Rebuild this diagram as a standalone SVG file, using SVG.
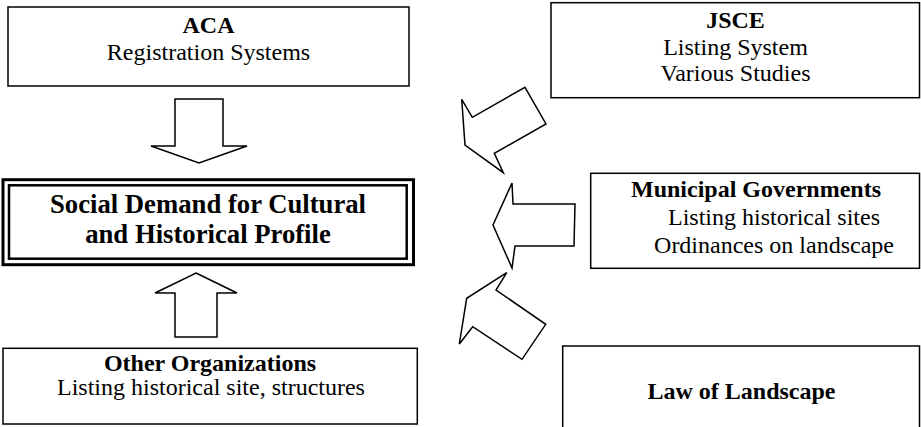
<svg xmlns="http://www.w3.org/2000/svg" width="921" height="427" viewBox="0 0 921 427">
<style>
.box{fill:#fff;stroke:#000;stroke-width:1.5}
.arrow{fill:#fff;stroke:#000;stroke-width:1.5;stroke-linejoin:miter}
text{font-family:"Liberation Serif","Times New Roman",serif;fill:#000;text-anchor:middle}
.t{font-size:24px}
.b{font-size:24px;font-weight:bold}
.c{font-size:26.7px;font-weight:bold}
</style>
<rect width="921" height="427" fill="#fff"/>
<g id="aca">
<rect class="box" x="8" y="7" width="401" height="79"/>
<text class="b" x="208.5" y="33">ACA</text>
<text class="t" x="208.5" y="60">Registration Systems</text>
</g>
<g id="jsce">
<rect class="box" x="551" y="2.7" width="368.5" height="95"/>
<text class="b" x="735.5" y="28">JSCE</text>
<text class="t" x="735.5" y="55">Listing System</text>
<text class="t" x="735.5" y="81">Various Studies</text>
</g>
<g id="social-demand">
<rect x="3" y="179.7" width="410.5" height="85" fill="#fff" stroke="#000" stroke-width="3"/>
<rect x="9" y="185.3" width="397.7" height="73.4" fill="none" stroke="#000" stroke-width="2.5"/>
<text class="c" x="208" y="213">Social Demand for Cultural</text>
<text class="c" x="208" y="243">and Historical Profile</text>
</g>
<g id="municipal">
<rect class="box" x="590.7" y="173.3" width="328.8" height="95"/>
<text class="b" x="756" y="196.7">Municipal Governments</text>
<text class="t" x="774" y="225">Listing historical sites</text>
<text class="t" x="774" y="252.7">Ordinances on landscape</text>
</g>
<g id="other-organizations">
<rect class="box" x="3" y="348.3" width="414.3" height="75.7"/>
<text class="b" x="210" y="371">Other Organizations</text>
<text class="t" x="211" y="395">Listing historical site, structures</text>
</g>
<g id="law-of-landscape">
<rect class="box" x="562.7" y="346" width="356.8" height="100"/>
<text class="b" x="741.5" y="399.3">Law of Landscape</text>
</g>
<g id="connectors">
<polygon class="arrow" points="175,99 223,99 223,146 247,146 199,163 151,146 175,146"/>
<polygon class="arrow" points="196,273 237,293 217,293 217,337 175,337 175,293 155,293"/>
<polygon class="arrow" points="461.7,99.3 472.3,117.3 525,87.3 546,124 494.3,153.3 503.3,172.7 465,145"/>
<polygon class="arrow" points="512,183 513,204 575,204 574,246 515,246 512,268 493,225"/>
<polygon class="arrow" points="506.7,272.7 496,290 545.7,324.3 522,359.3 472.7,326.7 459.3,344 466.7,298.3"/>
</g>
</svg>
